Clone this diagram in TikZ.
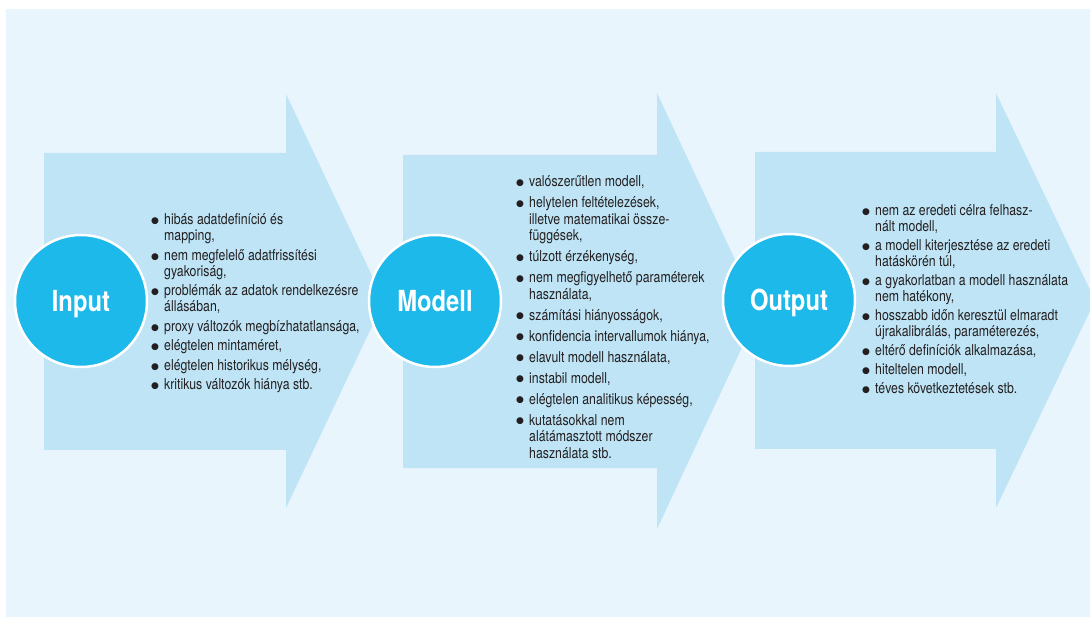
\documentclass[tikz,border=0pt]{standalone}
\usepackage{fontspec}
\setmainfont{TeX Gyre Heros}[FakeStretch=0.82]
\newfontfamily\bulfont{DejaVu Sans}
\definecolor{bgc}{HTML}{E9F5FC}
\definecolor{arrc}{HTML}{BEE4F6}
\definecolor{circc}{HTML}{1DB9EA}
\definecolor{txtc}{HTML}{231F20}
\newcommand\bl{\makebox[13pt][l]{\raisebox{1.3pt}{\bulfont\fontsize{9}{9}\selectfont ●}}}
\newcommand\ct{\hspace*{13pt}}
\begin{document}
\begin{tikzpicture}[x=1pt,y=-1pt,
  arrowshape/.style={fill=arrc},
  headcirc/.style={circle, fill=circc, draw=white, line width=2.5pt, minimum size=132pt,
    inner sep=0pt, text=white, font=\fontsize{29}{29}\bfseries, text height=21pt, text depth=0pt},
  listtext/.style={anchor=base west, inner sep=0pt, text=txtc, align=left}]
\useasboundingbox (0,0) rectangle (1090,617);
\fill[bgc] (6,9) rectangle (1090,617);
% arrows
\fill[arrowshape] (44,153) -- (286,153) -- (286,94) -- (384,301) -- (286,508) -- (286,450) -- (44,450) -- cycle;
\fill[arrowshape] (403,155) -- (657,155) -- (657,93) -- (759,311) -- (657,529) -- (657,468) -- (403,468) -- cycle;
\fill[arrowshape] (755,152) -- (996,152) -- (996,93) -- (1095,300.5) -- (996,508) -- (996,449) -- (755,449) -- cycle;
% circles
\node[headcirc] (input) at (81,301) {Input};
\node[headcirc] (modell) at (435,301) {Modell};
\node[headcirc] (output) at (789,300) {Output};
% lists
\node[listtext] (inlist) at (151,225) {\fontsize{15}{16}\selectfont
\begin{tabular}[t]{@{}l@{}}
\bl hibás adatdefiníció és\\ \ct mapping,\\[3.5pt]
\bl nem megfelelő adatfrissítési\\ \ct gyakoriság,\\[3.5pt]
\bl problémák az adatok rendelkezésre\\ \ct állásában,\\[3.5pt]
\bl proxy változók megbízhatatlansága,\\[3.5pt]
\bl elégtelen mintaméret,\\[3.5pt]
\bl elégtelen historikus mélység,\\[3.5pt]
\bl kritikus változók hiánya stb.
\end{tabular}};
\node[listtext] (modlist) at (516,186.7) {\fontsize{15}{16.5}\selectfont
\begin{tabular}[t]{@{}l@{}}
\bl valószerűtlen modell,\\[4.5pt]
\bl helytelen feltételezések,\\ \ct illetve matematikai össze-\\ \ct függések,\\[4.5pt]
\bl túlzott érzékenység,\\[4.5pt]
\bl nem megfigyelhető paraméterek\\ \ct használata,\\[4.5pt]
\bl számítási hiányosságok,\\[4.5pt]
\bl konfidencia intervallumok hiánya,\\[4.5pt]
\bl elavult modell használata,\\[4.5pt]
\bl instabil modell,\\[4.5pt]
\bl elégtelen analitikus képesség,\\[4.5pt]
\bl kutatásokkal nem\\ \ct alátámasztott módszer\\ \ct használata stb.
\end{tabular}};
\node[listtext] (outlist) at (862,216) {\fontsize{15}{16}\selectfont
\begin{tabular}[t]{@{}l@{}}
\bl nem az eredeti célra felhasz-\\ \ct nált modell,\\[3pt]
\bl a modell kiterjesztése az eredeti\\ \ct hatáskörén túl,\\[3pt]
\bl a gyakorlatban a modell használata\\ \ct nem hatékony,\\[3pt]
\bl hosszabb időn keresztül elmaradt\\ \ct újrakalibrálás, paraméterezés,\\[3pt]
\bl eltérő definíciók alkalmazása,\\[3pt]
\bl hiteltelen modell,\\[3pt]
\bl téves következtetések stb.
\end{tabular}};
\end{tikzpicture}
\end{document}
